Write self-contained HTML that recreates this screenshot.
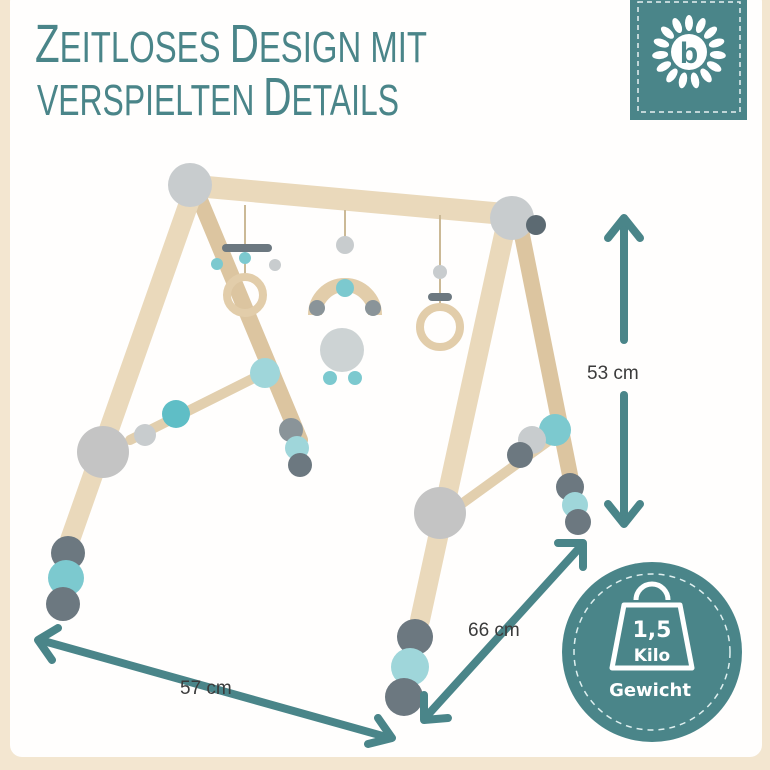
<!DOCTYPE html>
<html><head><meta charset="utf-8"><style>
html,body{margin:0;padding:0;background:#f3e6d0}
svg{display:block}
</style></head><body>
<svg width="770" height="770" viewBox="0 0 770 770" xmlns="http://www.w3.org/2000/svg">
<rect x="0" y="0" width="770" height="770" fill="#f3e6d0"/>
<rect x="10" y="-10" width="752" height="767" rx="12" fill="#fffefd"/>
<!-- title -->
<g fill="#4a8589" font-family="Liberation Sans, sans-serif">
<text x="35" y="62" font-size="54" textLength="392" lengthAdjust="spacingAndGlyphs">Z<tspan font-size="44">EITLOSES </tspan>D<tspan font-size="44">ESIGN MIT</tspan></text>
<text x="37" y="115" font-size="54" textLength="362" lengthAdjust="spacingAndGlyphs"><tspan font-size="44">VERSPIELTEN </tspan>D<tspan font-size="44">ETAILS</tspan></text>
</g>
<!-- logo -->
<rect x="630" y="-2" width="117" height="122" fill="#4a8589"/>
<rect x="638" y="2" width="102" height="110" fill="none" stroke="#e8f2f2" stroke-width="1.5" stroke-dasharray="5 4"/>
<g transform="translate(689,52)" fill="#fff">
<g id="p"><ellipse cx="0" cy="-29" rx="4" ry="8"/></g>
<use href="#p" transform="rotate(24)"/><use href="#p" transform="rotate(48)"/><use href="#p" transform="rotate(72)"/><use href="#p" transform="rotate(96)"/><use href="#p" transform="rotate(120)"/><use href="#p" transform="rotate(144)"/><use href="#p" transform="rotate(168)"/><use href="#p" transform="rotate(192)"/><use href="#p" transform="rotate(216)"/><use href="#p" transform="rotate(240)"/><use href="#p" transform="rotate(264)"/><use href="#p" transform="rotate(288)"/><use href="#p" transform="rotate(312)"/><use href="#p" transform="rotate(336)"/>
<circle r="18"/>
<text x="0" y="11" font-size="30" font-weight="bold" text-anchor="middle" fill="#4a8589" font-family="Liberation Sans, sans-serif">b</text>
</g>
<!-- frame -->
<g stroke-linecap="round">
<line x1="200" y1="200" x2="300" y2="440" stroke="#dcc5a0" stroke-width="16"/>
<line x1="520" y1="225" x2="575" y2="500" stroke="#dcc5a0" stroke-width="16"/>
<line x1="130" y1="440" x2="260" y2="375" stroke="#e2cfae" stroke-width="10"/>
<line x1="460" y1="505" x2="550" y2="440" stroke="#e2cfae" stroke-width="10"/>
<line x1="185" y1="185" x2="515" y2="215" stroke="#ead9bb" stroke-width="22"/>
<line x1="190" y1="200" x2="70" y2="540" stroke="#ead9bb" stroke-width="20"/>
<line x1="505" y1="230" x2="420" y2="620" stroke="#ead9bb" stroke-width="20"/>
</g>
<!-- corner joints -->
<circle cx="190" cy="185" r="22" fill="#c8ccce"/>
<circle cx="512" cy="218" r="22" fill="#c8ccce"/>
<circle cx="536" cy="225" r="10" fill="#5c6a72"/>
<!-- hangers -->
<g stroke="#cbb996" stroke-width="2"><line x1="245" y1="205" x2="245" y2="280"/><line x1="345" y1="210" x2="345" y2="245"/><line x1="440" y1="215" x2="440" y2="305"/></g>
<rect x="222" y="244" width="50" height="8" rx="4" fill="#6c7880"/>
<circle cx="245" cy="258" r="6" fill="#7cc9cf"/><circle cx="217" cy="264" r="6" fill="#7cc9cf"/><circle cx="275" cy="265" r="6" fill="#c8ccce"/>
<circle cx="245" cy="295" r="18" fill="none" stroke="#e2cdaa" stroke-width="8"/>
<circle cx="345" cy="245" r="9" fill="#c8ccce"/>
<path d="M315 315 A30 30 0 0 1 375 315" fill="none" stroke="#e2cdaa" stroke-width="14"/>
<circle cx="345" cy="288" r="9" fill="#7cc9cf"/><circle cx="317" cy="308" r="8" fill="#8a9499"/><circle cx="373" cy="308" r="8" fill="#8a9499"/>
<circle cx="342" cy="350" r="22" fill="#cdd3d4"/><circle cx="330" cy="378" r="7" fill="#7cc9cf"/><circle cx="355" cy="378" r="7" fill="#7cc9cf"/>
<circle cx="440" cy="272" r="7" fill="#c8ccce"/><rect x="428" y="293" width="24" height="8" rx="4" fill="#6c7880"/>
<circle cx="440" cy="327" r="20" fill="none" stroke="#e2cdaa" stroke-width="8"/>
<!-- beads -->
<circle cx="265" cy="373" r="15" fill="#9fd6da"/>
<circle cx="176" cy="414" r="14" fill="#5fbec6"/><circle cx="145" cy="435" r="11" fill="#c8ccce"/>
<circle cx="103" cy="452" r="26" fill="#c4c4c4"/>
<circle cx="291" cy="430" r="12" fill="#8a9499"/><circle cx="297" cy="448" r="12" fill="#9fd6da"/><circle cx="300" cy="465" r="12" fill="#6c7880"/>
<circle cx="555" cy="430" r="16" fill="#7cc9cf"/><circle cx="532" cy="440" r="14" fill="#c8ccce"/><circle cx="520" cy="455" r="13" fill="#6c7880"/>
<circle cx="440" cy="513" r="26" fill="#c4c4c4"/>
<circle cx="570" cy="487" r="14" fill="#6c7880"/><circle cx="575" cy="505" r="13" fill="#9fd6da"/><circle cx="578" cy="522" r="13" fill="#6c7880"/>
<circle cx="68" cy="553" r="17" fill="#6c7880"/><circle cx="66" cy="578" r="18" fill="#7cc9cf"/><circle cx="63" cy="604" r="17" fill="#6c7880"/>
<circle cx="415" cy="637" r="18" fill="#6c7880"/><circle cx="410" cy="667" r="19" fill="#9fd6da"/><circle cx="404" cy="697" r="19" fill="#6c7880"/>
<!-- arrows -->
<g stroke="#4a8589" stroke-width="8" stroke-linecap="round" stroke-linejoin="round" fill="none">
<line x1="624" y1="222" x2="624" y2="340"/><polyline points="608,238 624,218 640,238"/>
<line x1="624" y1="395" x2="624" y2="520"/><polyline points="608,504 624,524 640,504"/>
<line x1="40" y1="640" x2="390" y2="738"/><polyline points="58,628 38,640 52,660"/><polyline points="368,744 392,738 378,718"/>
<line x1="425" y1="718" x2="582" y2="545"/><polyline points="424,695 424,720 448,718"/><polyline points="558,543 583,543 583,567"/>
</g>
<g font-family="Liberation Sans, sans-serif" font-size="19" fill="#3b3b3b">
<text x="587" y="379">53 cm</text>
<text x="468" y="636">66 cm</text>
<text x="180" y="694">57 cm</text>
</g>
<!-- weight badge -->
<circle cx="652" cy="652" r="90" fill="#4a8589"/>
<circle cx="652" cy="652" r="78" fill="none" stroke="#dff0f0" stroke-width="1.5" stroke-dasharray="6 5"/>
<path d="M636 600 A16 16 0 0 1 668 600" fill="none" stroke="#fff" stroke-width="5"/>
<path d="M624 605 L680 605 L692 668 L612 668 Z" fill="none" stroke="#fff" stroke-width="5" stroke-linejoin="round"/>
<g font-family="DejaVu Sans, sans-serif" font-weight="bold" fill="#fff" text-anchor="middle">
<text x="652" y="637" font-size="22">1,5</text>
<text x="652" y="661" font-size="17">Kilo</text>
<text x="650" y="696" font-size="18">Gewicht</text>
</g>
</svg>
</body></html>
